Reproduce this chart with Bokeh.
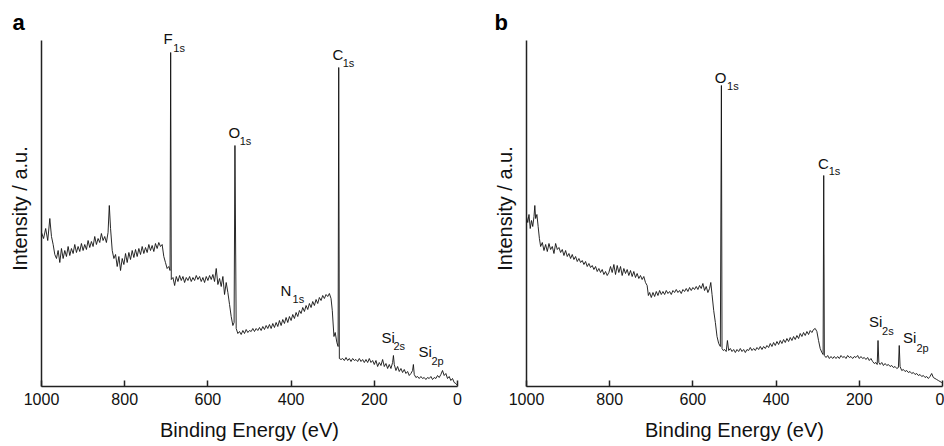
from bokeh.plotting import figure
from bokeh.layouts import row
from bokeh.models import Range1d, FixedTicker, Label, Title
from bokeh.embed import file_html
from bokeh.resources import INLINE

# ---------------- data ----------------
energy_a = [1000, 995, 990, 985, 980, 976, 972, 968, 964, 960,
            956, 952, 948, 944, 940, 936, 932, 928, 924, 920,
            916, 912, 908, 904, 900, 896, 892, 888, 884, 880,
            876, 872, 868, 864, 860, 856, 852, 848, 844, 840,
            837, 834, 830, 826, 822, 818, 814, 810, 806, 802,
            798, 794, 790, 786, 782, 778, 774, 770, 766, 762,
            758, 754, 750, 746, 742, 738, 734, 730, 726, 722,
            718, 714, 710, 706, 702, 698, 694, 691, 689.5, 688,
            684, 680, 676, 672, 668, 664, 660, 656, 652, 648,
            644, 640, 636, 632, 628, 624, 620, 616, 612, 608,
            604, 600, 596, 592, 588, 584, 580, 576, 572, 568,
            564, 560, 556, 552, 548, 544, 540, 537, 535, 532,
            528, 524, 520, 516, 512, 508, 504, 500, 496,
            492, 488, 484, 480, 476, 472, 468, 464, 460, 456,
            452, 448, 444, 440, 436, 432, 428, 424, 420, 416,
            412, 408, 404, 400, 396, 392, 388, 384, 380, 376,
            372, 368, 364, 360, 356, 352, 348, 344, 340, 336,
            332, 328, 324, 320, 316, 312, 308, 304, 301, 297,
            294, 290, 287, 285.5, 284, 280, 276, 272, 268, 264,
            260, 256, 252, 248, 244, 240, 236, 232, 228, 224,
            220, 216, 212, 208, 204, 200, 196, 192, 188, 184,
            180, 176, 172, 168, 164, 160, 156, 154, 152, 148,
            144, 140, 136, 132, 128, 124, 120, 116, 112, 108,
            106, 104, 100, 96, 92, 88, 84, 80, 76, 72,
            68, 64, 60, 56, 52, 48, 44, 40, 36, 32,
            28, 24, 20, 16, 12, 8, 4, 0]
intensity_a = [154, 148, 158, 146, 168, 150, 142, 132, 128, 136,
               124, 138, 128, 136, 130, 140, 131, 138, 133, 142,
               134, 140, 135, 143, 136, 142, 137, 146, 139, 145,
               140, 150, 142, 148, 144, 153, 146, 150, 144, 154,
               181, 158, 136, 128, 132, 120, 130, 116, 128, 122,
               133, 124, 134, 127, 136, 129, 137, 130, 138, 132,
               140, 133, 139, 134, 142, 136, 141, 135, 143, 138,
               144, 140, 142, 130, 124, 118, 120, 116, 334, 107,
               109, 101, 110, 105, 111, 106, 110, 104, 109, 106,
               110, 105, 109, 106, 111, 107, 110, 105, 109, 104,
               110, 106, 111, 107, 112, 105, 118, 102, 108, 100,
               110, 92, 104, 94, 82, 70, 61, 64, 241, 58,
               53, 55, 52, 56, 53, 57, 54, 56, 55,
               58, 55, 58, 56, 59, 56, 60, 57, 61, 58,
               62, 58, 63, 59, 64, 60, 66, 61, 67, 63,
               69, 64, 70, 66, 72, 68, 74, 70, 76, 73,
               79, 75, 81, 77, 83, 79, 85, 81, 87, 83,
               89, 86, 91, 88, 92, 90, 93, 88, 76, 50,
               54, 44, 40, 319, 28, 27, 28, 26, 29, 26,
               28, 25, 28, 26, 27, 25, 28, 25, 27, 24,
               27, 24, 28, 24, 26, 22, 26, 20, 24, 21,
               27, 20, 23, 18, 22, 18, 24, 31, 22, 16,
               20, 15, 18, 14, 17, 13, 15, 11, 13, 16,
               22, 12, 9, 10, 8, 10, 8, 9, 7, 9,
               8, 10, 7, 9, 8, 11, 9, 12, 16, 11,
               13, 8, 10, 6, 8, 4, 3, 1]

energy_b = [1000, 997, 994, 991, 988, 985, 982, 980, 978, 975,
            972, 969, 966, 962, 958, 954, 950, 946, 942, 938,
            934, 930, 926, 922, 918, 914, 910, 906, 902, 898,
            894, 890, 886, 882, 878, 874, 870, 866, 862, 858,
            854, 850, 846, 842, 838, 834, 830, 826, 822, 818,
            814, 810, 806, 802, 798, 794, 790, 786, 782, 778,
            774, 770, 766, 762, 758, 754, 750, 746, 742, 738,
            734, 730, 726, 722, 718, 714, 710, 707, 704, 700,
            696, 692, 688, 684, 680, 676, 672, 668, 664, 660,
            656, 652, 648, 644, 640, 636, 632, 628, 624, 620,
            616, 612, 608, 604, 600, 596, 592, 588, 584, 580,
            576, 572, 568, 564, 560, 557, 554, 550, 546, 542,
            538, 534, 531.5, 530, 527, 524, 520, 517, 514, 510,
            506, 502, 498, 494, 490, 486, 482, 478, 474, 470,
            466, 462, 458, 454, 450, 446, 442, 438, 434, 430,
            426, 422, 418, 414, 410, 406, 402, 398, 394, 390,
            386, 382, 378, 374, 370, 366, 362, 358, 354, 350,
            346, 342, 338, 334, 330, 326, 322, 318, 314, 310,
            306, 302, 298, 294, 290, 287, 285.5, 284, 280, 276,
            272, 268, 264, 260, 256, 252, 248, 244, 240, 236,
            232, 228, 224, 220, 216, 212, 208, 204, 200, 196,
            192, 188, 184, 180, 176, 172, 168, 164, 160, 157,
            155, 153, 150, 146, 142, 138, 134, 130, 126, 122,
            118, 114, 110, 106, 104, 102, 98, 94, 90, 86,
            82, 78, 74, 70, 66, 62, 58, 54, 50, 46,
            42, 38, 34, 30, 26, 22, 18, 14, 10, 6,
            2, 0]
intensity_b = [170, 164, 172, 158, 166, 160, 170, 181, 168, 172,
               160, 148, 140, 144, 136, 142, 135, 143, 137, 140,
               133, 143, 137, 139, 134, 137, 131, 136, 130, 133,
               128, 132, 127, 130, 125, 128, 124, 126, 122, 125,
               120, 123, 119, 121, 117, 120, 115, 118, 114, 117,
               112, 115, 111, 114, 120, 114, 122, 112, 121, 114,
               120, 111, 118, 113, 117, 111, 116, 110, 115, 109,
               113, 108, 111, 107, 110, 104, 101, 91, 94, 89,
               94, 90, 95, 91, 96, 92, 95, 92, 96, 93,
               95, 92, 96, 94, 97, 94, 96, 93, 97, 95,
               98, 95, 99, 96, 99, 97, 100, 97, 101, 98,
               103, 96, 100, 94, 98, 104, 92, 76, 64, 50,
               43, 40, 301, 38, 36, 37, 35, 46, 36, 38,
               35, 37, 34, 37, 35, 38, 35, 37, 34, 37,
               36, 39, 36, 38, 36, 39, 37, 40, 37, 40,
               38, 41, 39, 43, 40, 44, 41, 45, 42, 46,
               43, 47, 44, 48, 45, 49, 46, 50, 47, 51,
               48, 53, 50, 54, 51, 55, 52, 56, 54, 57,
               58, 55, 46, 38, 34, 32, 211, 31, 29, 31,
               28, 30, 28, 30, 28, 30, 28, 31, 29, 30,
               28, 31, 29, 30, 28, 30, 29, 31, 28, 30,
               28, 29, 27, 29, 26, 28, 25, 23, 24, 22,
               46, 24, 22, 24, 21, 23, 21, 22, 20, 21,
               19, 20, 18, 19, 41, 20, 16, 17, 15, 16,
               14, 15, 13, 14, 12, 13, 11, 12, 10, 11,
               9, 10, 8, 10, 13, 9, 8, 7, 6, 5,
               4, 4]

x_ticks = [0, 200, 400, 600, 800, 1000]

# peak labels: main text, subscript, positions (eV, a.u.)
peak_main_a = ["F", "O", "C", "N", "Si", "Si"]
peak_sub_a = ["1s", "1s", "1s", "1s", "2s", "2p"]
peak_main_x_a = [706.7, 550.5, 300.5, 425.5, 182.7, 93.7]
peak_main_y_a = [348, 254, 332, 96, 49, 35]
peak_sub_x_a = [683.0, 523.5, 276.0, 396.5, 154.0, 62.5]
peak_sub_y_a = [339, 246, 324, 88, 41, 26]

peak_main_b = ["O", "C", "Si", "Si"]
peak_sub_b = ["1s", "1s", "2s", "2p"]
peak_main_x_b = [547.4, 299.0, 176.4, 94.7]
peak_main_y_b = [309, 223, 65, 49]
peak_sub_x_b = [518.0, 273.5, 145.2, 62.5]
peak_sub_y_b = [301, 216, 56, 39]

FONT = "Liberation Sans"


def make_panel(energy, intensity, letter, letter_offset, mains, subs, mx, my, sx, sy,
               border_left, border_right):
    p = figure(width=472, height=446, output_backend="svg", toolbar_location=None,
               x_range=Range1d(1000, 0), y_range=Range1d(0, 356),
               min_border_left=border_left, min_border_right=border_right,
               min_border_top=30, min_border_bottom=60)
    p.outline_line_color = None
    p.xgrid.visible = False
    p.ygrid.visible = False
    p.background_fill_color = "white"
    p.border_fill_color = "white"

    p.title = Title(text=letter, align="left", offset=letter_offset, standoff=-8,
                    text_font=FONT, text_font_size="22px", text_font_style="bold",
                    text_color="#000000")

    p.line(energy, intensity, line_color="#111111", line_width=0.9)

    xa = p.xaxis[0]
    xa.ticker = FixedTicker(ticks=x_ticks)
    xa.major_tick_in = 6
    xa.major_tick_out = 0
    xa.minor_tick_line_color = None
    xa.major_tick_line_width = 1.5
    xa.major_tick_line_color = "#222222"
    xa.axis_line_color = "#222222"
    xa.axis_line_width = 1.5
    xa.major_label_text_font = FONT
    xa.major_label_text_font_size = "16px"
    xa.major_label_text_color = "#111111"
    xa.major_label_standoff = 6
    xa.axis_label = "Binding Energy (eV)"
    xa.axis_label_text_font = FONT
    xa.axis_label_text_font_size = "20px"
    xa.axis_label_text_font_style = "normal"
    xa.axis_label_text_color = "#111111"
    xa.axis_label_standoff = 11

    ya = p.yaxis[0]
    ya.ticker = FixedTicker(ticks=[])
    ya.bounds = (0, 346)
    ya.major_tick_line_color = None
    ya.minor_tick_line_color = None
    ya.major_label_text_font_size = "0px"
    ya.axis_line_color = "#222222"
    ya.axis_line_width = 1.5
    ya.axis_label = "Intensity / a.u."
    ya.axis_label_text_font = FONT
    ya.axis_label_text_font_size = "20px"
    ya.axis_label_text_font_style = "normal"
    ya.axis_label_text_color = "#111111"
    ya.axis_label_standoff = 11

    for t, x, y in zip(mains, mx, my):
        p.add_layout(Label(x=x, y=y, text=t, text_font=FONT, text_font_size="15px",
                           text_color="#111111", text_baseline="middle", text_align="left"))
    for t, x, y in zip(subs, sx, sy):
        p.add_layout(Label(x=x, y=y, text=t, text_font=FONT, text_font_size="11px",
                           text_color="#111111", text_baseline="middle", text_align="left"))
    return p


pa = make_panel(energy_a, intensity_a, "a", -29, peak_main_a, peak_sub_a,
                peak_main_x_a, peak_main_y_a, peak_sub_x_a, peak_sub_y_a, 41, 15)
pb = make_panel(energy_b, intensity_b, "b", -32, peak_main_b, peak_sub_b,
                peak_main_x_b, peak_main_y_b, peak_sub_x_b, peak_sub_y_b, 54, 2)

layout = row(pa, pb)
open("out.html", "w").write(file_html(layout, INLINE))
